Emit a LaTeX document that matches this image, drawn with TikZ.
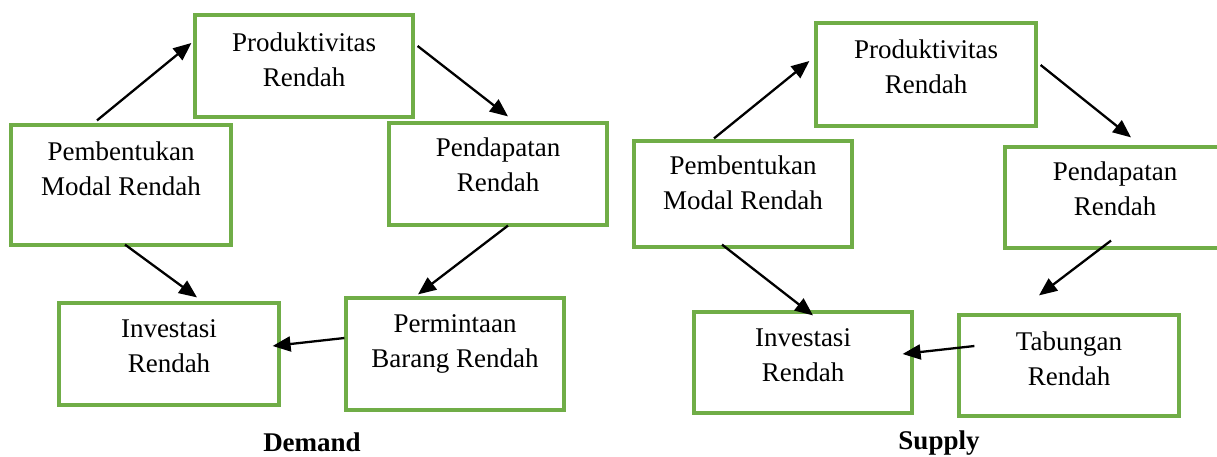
\documentclass[tikz,border=0pt]{standalone}
\usepackage{fontspec}
\setmainfont{Liberation Serif}
\usetikzlibrary{arrows.meta,calc}
\definecolor{boxgreen}{RGB}{112,173,71}
\begin{document}
\begin{tikzpicture}[x=1pt,y=-1pt,
  box/.style={draw=boxgreen, line width=3.2pt, rectangle, inner sep=0pt, fill=white},
  txt/.style={anchor=north, align=center, inner sep=0pt, font=\fontsize{27}{35}\selectfont},
  captxt/.style={anchor=base, inner sep=0pt, font=\fontsize{27}{33}\selectfont\bfseries},
  arr/.style={draw=black, line width=2.3pt, -{Triangle[length=18pt,width=15pt]}}]
\useasboundingbox (0,0) rectangle (1217,457);
\clip (0,0) rectangle (1217,457);
% ---------------- Demand ----------------
\node[box, minimum width=218pt, minimum height=102pt] (prodD) at (304,66) {};
\node[box, minimum width=220pt, minimum height=120pt] (pembD) at (121,185) {};
\node[box, minimum width=218pt, minimum height=102pt] (pendD) at (498,174) {};
\node[box, minimum width=220pt, minimum height=102pt] (invD) at (169,354) {};
\node[box, minimum width=218pt, minimum height=112pt] (permD) at (455,354) {};
\node[txt] (prodDt) at ([yshift=-18pt]prodD.north) {\rule{0pt}{20pt}Produktivitas\\Rendah};
\node[txt] (pembDt) at ([yshift=-17pt]pembD.north) {\rule{0pt}{20pt}Pembentukan\\Modal Rendah};
\node[txt] (pendDt) at ([yshift=-15pt]pendD.north) {\rule{0pt}{20pt}Pendapatan\\Rendah};
\node[txt] (invDt) at ([yshift=-16pt]invD.north) {\rule{0pt}{20pt}Investasi\\Rendah};
\node[txt] (permDt) at ([yshift=-16pt]permD.north) {\rule{0pt}{20pt}Permintaan\\Barang Rendah};
\draw[arr] ($(pembD.north)+(-24,-3)$) -- ($(prodD.west)+(-2,-23)$);
\draw[arr] ($(prodD.east)+(3,-20)$) -- ($(pendD.north)+(10,-5)$);
\draw[arr] ($(pendD.south)+(10,-1)$) -- ($(permD.north)+(-37,-2)$);
\draw[arr] ($(permD.west)+(0,-16)$) -- ($(invD.east)+(-8,-8)$);
\draw[arr] ($(pembD.south)+(4,-2)$) -- ($(invD.north)+(28,-4)$);
\node[captxt] (demand) at (312,451) {Demand};
% ---------------- Supply ----------------
\node[box, minimum width=220pt, minimum height=103pt] (prodS) at (926,74.5) {};
\node[box, minimum width=218pt, minimum height=106pt] (pembS) at (743,194) {};
\node[box, minimum width=220pt, minimum height=101pt] (pendS) at (1115,197.5) {};
\node[box, minimum width=218pt, minimum height=101pt] (invS) at (803,362.5) {};
\node[box, minimum width=220pt, minimum height=101pt] (tabS) at (1069,365.5) {};
\node[txt] (prodSt) at ([yshift=-17pt]prodS.north) {\rule{0pt}{20pt}Produktivitas\\Rendah};
\node[txt] (pembSt) at ([yshift=-15pt]pembS.north) {\rule{0pt}{20pt}Pembentukan\\Modal Rendah};
\node[txt] (pendSt) at ([yshift=-15pt]pendS.north) {\rule{0pt}{20pt}Pendapatan\\Rendah};
\node[txt] (invSt) at ([yshift=-16pt]invS.north) {\rule{0pt}{20pt}Investasi\\Rendah};
\node[txt] (tabSt) at ([yshift=-17pt]tabS.north) {\rule{0pt}{20pt}Tabungan\\Rendah};
\draw[arr] ($(pembS.north)+(-29,-1)$) -- ($(prodS.west)+(-5,-13.5)$);
\draw[arr] ($(prodS.east)+(3,-9.5)$) -- ($(pendS.north)+(16,-8)$);
\draw[arr] ($(pendS.south)+(-4,-9)$) -- ($(tabS.north)+(-30,-18)$);
\draw[arr] ($(tabS.west)+(17,-19.5)$) -- ($(invS.east)+(-11,-8.5)$);
\draw[arr] ($(pembS.south)+(-21,-4)$) -- ($(invS.north)+(10,5)$);
\node[captxt] (supply) at (939,449) {Supply};
\end{tikzpicture}
\end{document}
